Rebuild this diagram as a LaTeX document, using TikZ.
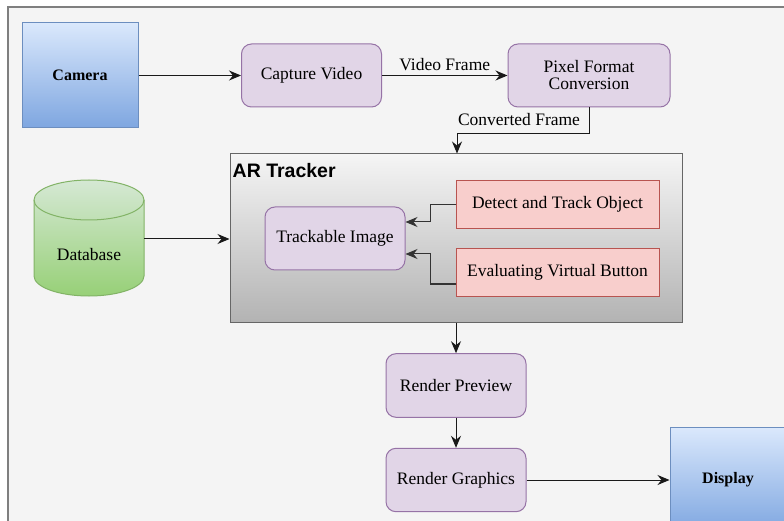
\documentclass[tikz,border=0pt]{standalone}
\usepackage{fontspec}
\setmainfont{Liberation Serif}
\newfontfamily\arialfont{Liberation Sans}
\usetikzlibrary{arrows.meta,positioning}
\definecolor{bgc}{HTML}{F4F4F4}
\definecolor{framec}{HTML}{7F7F7F}
\definecolor{blueT}{HTML}{DAE8FC}
\definecolor{blueB}{HTML}{7EA6E0}
\definecolor{blueD}{HTML}{6C8EBF}
\definecolor{purF}{HTML}{E1D5E7}
\definecolor{purD}{HTML}{9673A6}
\definecolor{redF}{HTML}{F8CECC}
\definecolor{redD}{HTML}{B85450}
\definecolor{grnT}{HTML}{D5E8D4}
\definecolor{grnB}{HTML}{97D077}
\definecolor{grnD}{HTML}{82B366}
\definecolor{grayT}{HTML}{F5F5F5}
\definecolor{grayB}{HTML}{B3B3B3}
\definecolor{grayD}{HTML}{666666}
\tikzset{
  x=1pt, y=-1pt,
  txt/.style={font=\fontsize{17.5}{20}\selectfont, text=black},
  bluebox/.style={draw=blueD, top color=blueT, bottom color=blueB, line width=1pt,
    minimum width=116pt, minimum height=105pt, inner sep=0pt, text=black,
    font=\fontsize{16}{19}\selectfont\bfseries},
  purbox/.style={draw=purD, fill=purF, rounded corners=10pt, line width=1pt,
    minimum width=140pt, minimum height=63pt, inner sep=0pt, align=center, txt},
  redbox/.style={draw=redD, fill=redF, line width=1pt,
    minimum width=203pt, minimum height=48pt, inner sep=0pt, txt},
  conn/.style={draw=black!90, line width=1pt, -{Stealth[length=12pt,width=10pt,inset=4pt]}},
  lbl/.style={txt, inner sep=1pt},
}
\begin{document}
\begin{tikzpicture}
\clip (0,0) rectangle (784,521);
\fill[white] (0,0) rectangle (784,521);
\draw[framec, line width=2pt, fill=bgc] (8,7) rectangle (800,540);

% AR Tracker container
\node[draw=grayD, top color=grayT, bottom color=grayB, line width=1pt,
  minimum width=452pt, minimum height=168pt, inner sep=0pt] (artracker) at (456,238) {};
\node[anchor=north west, inner sep=0pt, font=\arialfont\fontsize{19.5}{22}\selectfont\bfseries]
  (artitle) at (232.5,163) {AR Tracker};

% nodes
\node[bluebox] (camera) at (80,75.5) {Camera};
\node[purbox] (capture) at (311.5,75.5) {Capture Video};
\node[purbox, minimum width=162pt] (pixel) at (589,75.5) {Pixel Format\\[-3pt]Conversion};
\node[purbox] (trackable) at (335,238.5) {Trackable Image};
\node[redbox] (detect) at (557.5,204.5) {Detect and Track Object};
\node[redbox] (evaluate) at (557.5,272.7) {Evaluating Virtual Button};
\node[purbox, minimum height=63.6pt] (preview) at (456,385.5) {Render Preview};
\node[purbox, minimum height=63.4pt] (graphics) at (456,480) {Render Graphics};
\node[bluebox] (display) at (728,480) {Display};

% database cylinder
\node[minimum width=110pt, minimum height=116pt, inner sep=0pt] (database) at (89,238) {};
\shade[top color=grnT, bottom color=grnB, draw=grnD, line width=1pt]
  (34,200) -- (34,276) arc[start angle=180, end angle=0, x radius=55, y radius=20]
  -- (144,200) arc[start angle=0, end angle=-180, x radius=55, y radius=20] -- cycle;
\draw[grnD, line width=1pt] (34,200) arc[start angle=180, end angle=0, x radius=55, y radius=20];
\node[txt] (dblabel) at (89,255) {Database};

% connectors
\draw[conn] (camera.east) -- (capture.west);
\draw[conn] (capture.east) -- node[lbl, above=3pt] (vf) {Video Frame} (pixel.west);
\coordinate (cf1) at (589,134);
\coordinate (cf2) at (457,134);
\draw[conn] (pixel.south) -- (cf1) -- (cf2) -- (artracker.north -| cf2);
\node[lbl] (cflabel) at (519,120) {Converted Frame};
\draw[conn] (database.east |- 0,239) -- (artracker.west |- 0,239);
\coordinate (d1) at (430,204.5);
\coordinate (d2) at (430,222);
\draw[conn, draw=black!80] (detect.west) -- (d1) -- (d2) -- (trackable.east |- d2);
\coordinate (e0) at (456,284);
\coordinate (e1) at (430,284);
\coordinate (e2) at (430,254);
\draw[conn, draw=black!80] (e0) -- (e1) -- (e2) -- (trackable.east |- e2);
\draw[conn] (artracker.south -| preview.north) -- (preview.north);
\draw[conn] (preview.south) -- (graphics.north);
\draw[conn] (graphics.east) -- (display.west);
\end{tikzpicture}
\end{document}
